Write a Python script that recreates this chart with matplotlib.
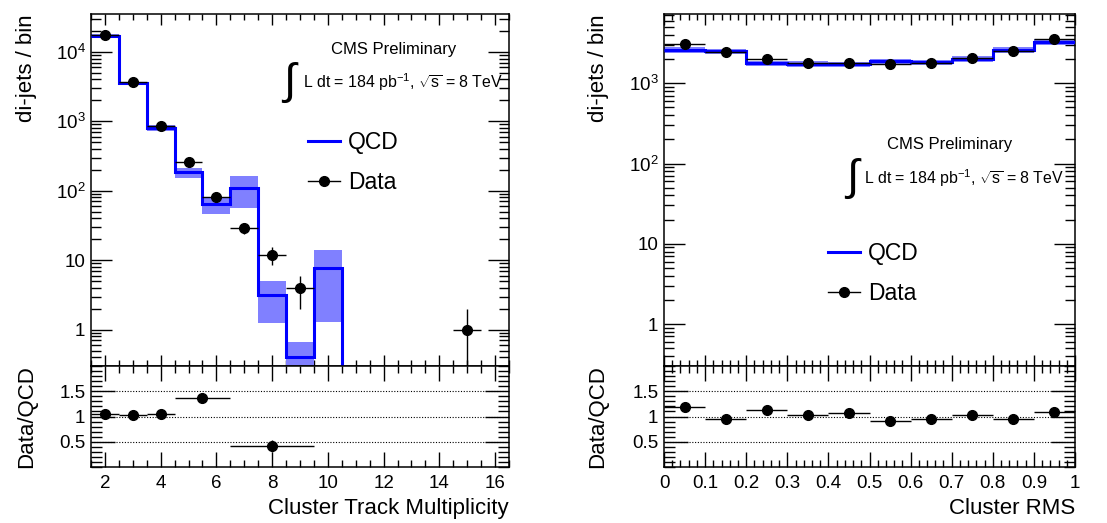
import numpy as np
import matplotlib
matplotlib.use("Agg")
import matplotlib.pyplot as plt
from matplotlib.lines import Line2D
from matplotlib.ticker import MultipleLocator, LogLocator, NullFormatter, FixedLocator

plt.rcParams['font.family'] = ['Liberation Sans', 'DejaVu Sans']
plt.rcParams['mathtext.fontset'] = 'custom'
plt.rcParams['mathtext.rm'] = 'Liberation Sans'
plt.rcParams['mathtext.it'] = 'Liberation Sans:italic'

# --- left: cluster track multiplicity, bins 1.5 .. 16.5
mult_edges = np.arange(1.5, 17.0, 1.0)
mult_qcd = [1.7e4, 3.5e3, 800, 188, 65, 110, 3.2, 0.4, 7.6, 0, 0, 0, 0, 0, 0]
mult_qcd_lo = [1.6e4, 3.3e3, 730, 155, 47, 56, 1.26, 0.2, 1.27, 0, 0, 0, 0, 0, 0]
mult_qcd_hi = [1.8e4, 3.6e3, 880, 215, 82, 165, 5.1, 0.67, 13.8, 0, 0, 0, 0, 0, 0]
mult_data = [1.76e4, 3.7e3, 850, 263, 82, 29, 12, 4, 0, 0, 0, 0, 0, 1, 0]

mult_ratio_x = [2, 3, 4, 5.5, 8]
mult_ratio_xerr = [0.5, 0.5, 0.5, 1.0, 1.5]
mult_ratio = [1.04, 1.02, 1.04, 1.36, 0.42]
mult_ratio_err = [0.02, 0.03, 0.06, 0.10, 0.12]

# --- right: cluster RMS, bins 0 .. 1
rms_edges = np.linspace(0, 1, 11)
rms_qcd = [2.6e3, 2.5e3, 1.78e3, 1.75e3, 1.72e3, 1.88e3, 1.83e3, 2.0e3, 2.6e3, 3.3e3]
rms_data = [3.1e3, 2.45e3, 2.0e3, 1.8e3, 1.8e3, 1.72e3, 1.8e3, 2.05e3, 2.5e3, 3.55e3]
rms_band = 0.08

rms_ratio = [1.18, 0.96, 1.12, 1.02, 1.06, 0.92, 0.96, 1.02, 0.96, 1.08]
rms_ratio_err = [0.03, 0.03, 0.03, 0.03, 0.03, 0.03, 0.03, 0.03, 0.03, 0.03]

W, H = 1107, 523
fig = plt.figure(figsize=(W / 100, H / 100), dpi=100)


def box(x0, x1, ytop, ybot):
    return [x0 / W, 1 - ybot / H, (x1 - x0) / W, (ybot - ytop) / H]


band_color = '#8080ff'
qcd_color = '#0000ff'
tick_fs = 13.5
label_fs = 16


def style_main(ax):
    ax.tick_params(which='both', direction='in', top=True, right=True, labelbottom=False)
    ax.tick_params(axis='y', which='major', length=15, width=1, labelsize=tick_fs, pad=4)
    ax.tick_params(axis='y', which='minor', length=7, width=1)
    ax.tick_params(axis='x', which='major', length=8, width=1)
    ax.tick_params(axis='x', which='minor', length=4, width=1)
    ax.yaxis.set_minor_locator(LogLocator(base=10, subs=np.arange(2, 10)))
    ax.yaxis.set_minor_formatter(NullFormatter())
    for s in ax.spines.values():
        s.set_linewidth(1.1)


def style_ratio(ax):
    ax.set_ylim(0, 2)
    ax.yaxis.set_major_locator(FixedLocator([0.5, 1.0, 1.5]))
    ax.yaxis.set_minor_locator(MultipleLocator(0.1))
    ax.set_yticklabels(['0.5', '1', '1.5'])
    ax.tick_params(which='both', direction='in', top=True, right=True)
    ax.tick_params(axis='y', which='major', length=17, width=1, labelsize=tick_fs, pad=4)
    ax.tick_params(axis='y', which='minor', length=8, width=1)
    ax.tick_params(axis='x', which='major', length=11, width=1, labelsize=tick_fs, pad=6)
    ax.tick_params(axis='x', which='minor', length=5, width=1)
    for yv in [0.5, 1.0, 1.5]:
        ax.axhline(yv, color='black', lw=0.8, ls=(0, (1, 1.5)), zorder=1)
    for s in ax.spines.values():
        s.set_linewidth(1.1)


def draw_hist(ax, edges, qcd, lo, hi, data, ymin):
    qcd = np.asarray(qcd, float)
    lo = np.asarray(lo, float)
    hi = np.asarray(hi, float)
    centers = 0.5 * (edges[:-1] + edges[1:])
    half = 0.5 * np.diff(edges)
    for i in range(len(qcd)):
        if hi[i] > 0:
            ax.fill_between([edges[i], edges[i + 1]], max(lo[i], ymin * 0.5), hi[i],
                            color=band_color, lw=0, zorder=2)
    ax.stairs(np.maximum(qcd, ymin * 0.5), edges, color=qcd_color, lw=2.2, zorder=3,
              baseline=None)
    data = np.asarray(data, float)
    m = data > 0
    err = np.sqrt(data[m])
    lower = np.minimum(err, data[m] - ymin * 0.5)
    ax.errorbar(centers[m], data[m], xerr=half[m], yerr=[lower, err], fmt='o',
                color='black', ms=7, elinewidth=1, capsize=0, zorder=4)


lumi = r'L dt = 184 pb$^{\mathdefault{-1}}$, $\sqrt{\mathdefault{s}}$ = 8 TeV'
handles = [Line2D([], [], color=qcd_color, lw=2.2),
           Line2D([], [], color='black', marker='o', ms=7, lw=1)]

# ---------------- left panel
axL = fig.add_axes(box(91, 509, 14, 366))
ymin_L = 0.3
draw_hist(axL, mult_edges, mult_qcd, mult_qcd_lo, mult_qcd_hi, mult_data, ymin_L)
axL.set_yscale('log')
axL.set_ylim(ymin_L, 3.5e4)
axL.set_xlim(1.5, 16.5)
axL.xaxis.set_major_locator(MultipleLocator(2))
axL.xaxis.set_minor_locator(MultipleLocator(0.5))
axL.yaxis.set_major_locator(FixedLocator([1, 10, 100, 1e3, 1e4]))
axL.set_yticklabels(['1', '10', '$10^{2}$', '$10^{3}$', '$10^{4}$'])
style_main(axL)
axL.set_ylabel('di-jets / bin', fontsize=label_fs, loc='top')
axL.yaxis.set_label_coords(-0.128, 1.0)

axL.text(0.725, 0.90, 'CMS Preliminary', transform=axL.transAxes, fontsize=12,
         ha='center', va='center')
axL.text(0.476, 0.805, r'$\int$', transform=axL.transAxes, fontsize=32,
         ha='center', va='center')
axL.text(0.507, 0.807, lumi, transform=axL.transAxes, fontsize=11.4, ha='left', va='center')
axL.legend(handles, ['QCD', 'Data'], loc='center left', bbox_to_anchor=(0.469, 0.578),
           frameon=False, fontsize=16.5, handlelength=1.4, handletextpad=0.35,
           labelspacing=0.75)

axLr = fig.add_axes(box(91, 509, 366, 467), sharex=axL)
axLr.errorbar(mult_ratio_x, mult_ratio, xerr=mult_ratio_xerr, yerr=mult_ratio_err,
              fmt='o', color='black', ms=7, elinewidth=1, capsize=0, zorder=4)
style_ratio(axLr)
axLr.tick_params(labelbottom=True)
axLr.set_ylabel('Data/QCD', fontsize=label_fs)
axLr.yaxis.set_label_coords(-0.128, 0.5)
axLr.set_xlabel('Cluster Track Multiplicity', fontsize=label_fs, loc='right', labelpad=4)

# ---------------- right panel
axR = fig.add_axes(box(664, 1075, 14, 366))
ymin_R = 0.3
rq = np.asarray(rms_qcd)
draw_hist(axR, rms_edges, rq, rq * (1 - rms_band), rq * (1 + rms_band), rms_data, ymin_R)
axR.set_yscale('log')
axR.set_ylim(ymin_R, 7.3e3)
axR.set_xlim(0, 1)
axR.xaxis.set_major_locator(MultipleLocator(0.1))
axR.xaxis.set_minor_locator(MultipleLocator(0.02))
axR.yaxis.set_major_locator(FixedLocator([1, 10, 100, 1e3]))
axR.set_yticklabels(['1', '10', '$10^{2}$', '$10^{3}$'])
style_main(axR)
axR.set_ylabel('di-jets / bin', fontsize=label_fs, loc='top')
axR.yaxis.set_label_coords(-0.135, 1.0)

axR.text(0.696, 0.63, 'CMS Preliminary', transform=axR.transAxes, fontsize=12,
         ha='center', va='center')
axR.text(0.46, 0.532, r'$\int$', transform=axR.transAxes, fontsize=32,
         ha='center', va='center')
axR.text(0.487, 0.534, lumi, transform=axR.transAxes, fontsize=11.4, ha='left', va='center')
axR.legend(handles, ['QCD', 'Data'], loc='center left', bbox_to_anchor=(0.348, 0.263),
           frameon=False, fontsize=16.5, handlelength=1.4, handletextpad=0.35,
           labelspacing=0.75)

axRr = fig.add_axes(box(664, 1075, 366, 467), sharex=axR)
rc = 0.5 * (rms_edges[:-1] + rms_edges[1:])
axRr.errorbar(rc, rms_ratio, xerr=0.5 * np.diff(rms_edges), yerr=rms_ratio_err,
              fmt='o', color='black', ms=7, elinewidth=1, capsize=0, zorder=4)
style_ratio(axRr)
axRr.tick_params(labelbottom=True)
axRr.set_xticks(np.round(np.arange(0, 1.01, 0.1), 1))
axRr.set_xticklabels(['0'] + [f'{v:.1f}' for v in np.arange(0.1, 0.95, 0.1)] + ['1'])
axRr.set_ylabel('Data/QCD', fontsize=label_fs)
axRr.yaxis.set_label_coords(-0.135, 0.5)
axRr.set_xlabel('Cluster RMS', fontsize=label_fs, loc='right', labelpad=4)

fig.savefig('out.png', dpi=100)
